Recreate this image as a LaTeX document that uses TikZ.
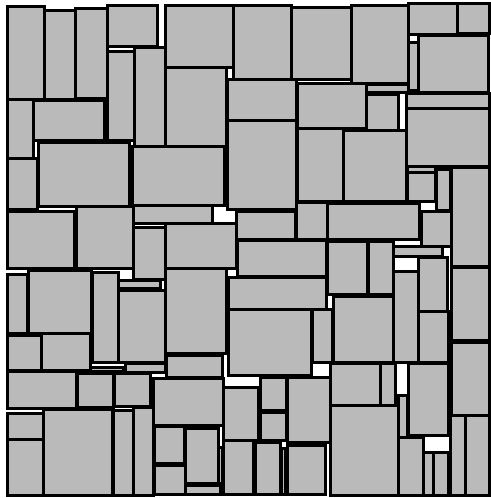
\documentclass[tikz,border=0pt]{standalone}
\usepackage{tikz}
\usepackage{xcolor}

\tikzset{
  slab/.style={draw=black, line width=3pt, fill=black!27, line join=miter}
}

\begin{document}
\begin{tikzpicture}[x=1pt, y=-1pt]
    % Frame
    \useasboundingbox (0,0) rectangle (490,498);
    \fill[white] (0,0) rectangle (490,498);

    % Top band
    \foreach \xa/\ya/\xb/\yb in {7/6/44/99, 44/10/75/99, 75/8/107/98, 107/5/157/46,
        107/51/134/140, 134/47/165/146, 165/5/233/67, 165/67/226/146,
        233/5/291/79, 291/7/351/79, 351/5/408/83, 408/3/457/34, 457/3/489/33,
        418/35/488/92, 408/42/418/90, 366/84/408/92, 227/79/296/120,
        297/83/366/128, 366/94/398/130, 406/93/489/108, 406/108/489/166,
        343/130/406/201, 297/128/343/201, 227/120/296/209}
        \draw[slab] (\xa,\ya) rectangle (\xb,\yb);

    % Middle band
    \foreach \xa/\ya/\xb/\yb in {7/99/33/158, 33/100/104/140, 38/142/129/206,
        7/158/37/209, 132/146/224/205, 132/205/212/223, 7/211/74/268,
        76/206/133/268, 133/227/165/279, 165/223/236/268, 236/211/295/239,
        296/202/327/239, 327/203/419/239, 407/166/435/172, 407/172/435/201,
        436/169/450/210, 451/167/489/266, 421/211/451/246, 237/240/326/276,
        327/241/367/294, 368/241/393/294, 393/246/442/256, 418/257/447/311,
        393/271/418/362, 451/267/489/340, 333/296/393/362, 418/311/448/362,
        165/268/226/353, 228/277/326/309, 228/309/311/375, 312/309/332/362,
        7/274/27/333, 28/270/91/333, 92/272/118/362, 118/280/160/288,
        118/290/165/362}
        \draw[slab] (\xa,\ya) rectangle (\xb,\yb);

    % Bottom band
    \foreach \xa/\ya/\xb/\yb in {7/335/41/370, 41/333/90/370, 90/367/123/371,
        125/363/165/372, 7/371/76/408, 77/373/113/407, 114/373/150/406,
        166/355/222/377, 153/378/223/425, 7/413/43/439, 7/439/43/495,
        43/409/112/495, 113/410/133/495, 133/407/153/495, 154/426/184/463,
        154/465/185/494, 185/428/218/483, 185/485/220/494, 218/447/222/483,
        223/387/258/440, 223/440/253/494, 255/442/280/494, 281/448/285/494,
        287/445/325/494, 260/377/286/410, 260/412/286/440, 287/377/330/442,
        330/363/380/405, 380/363/395/405, 408/363/448/435, 398/395/407/437,
        330/405/398/495, 398/437/423/495, 423/452/433/495, 433/452/448/495,
        451/342/489/415, 450/415/465/495, 465/415/489/495}
        \draw[slab] (\xa,\ya) rectangle (\xb,\yb);
\end{tikzpicture}
\end{document}
